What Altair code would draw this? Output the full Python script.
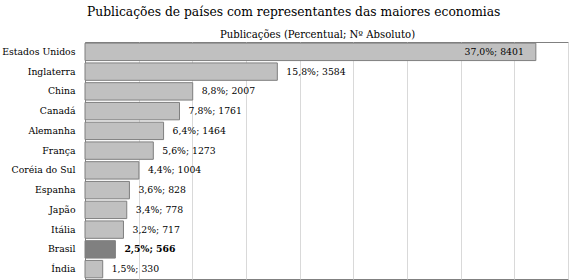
import altair as alt
import pandas as pd

countries = ["Estados Unidos", "Inglaterra", "China", "Canadá", "Alemanha", "França",
             "Coréia do Sul", "Espanha", "Japão", "Itália", "Brasil", "Índia"]
percent = [37.0, 15.8, 8.8, 7.8, 6.4, 5.6, 4.4, 3.6, 3.4, 3.2, 2.5, 1.5]
absolute = [8401, 3584, 2007, 1761, 1464, 1273, 1004, 828, 778, 717, 566, 330]
grid_values = [0, 1000, 2000, 3000, 4000, 5000, 6000, 7000, 8000, 9000]

labels = [f"{p:.1f}".replace(".", ",") + "%; " + str(a) for p, a in zip(percent, absolute)]
df = pd.DataFrame({"country": countries, "pct": percent, "abs": absolute, "label": labels})

FONT = "DejaVu Serif"

x_enc = alt.X("abs:Q", scale=alt.Scale(domain=[0, 9000], nice=False),
              axis=alt.Axis(orient="top", values=grid_values, labels=False, ticks=False,
                            domain=False, grid=True, gridColor="#d9d9d9",
                            title="Publicações (Percentual; Nº Absoluto)",
                            titleFont=FONT, titleFontSize=10.1, titleFontWeight="normal",
                            titleColor="#000000", titleX=232, titleY=-5,
                            titleBaseline="alphabetic", titleAlign="center"))
y_enc = alt.Y("country:N", sort=countries,
              scale=alt.Scale(paddingInner=0.12, paddingOuter=0.06),
              axis=alt.Axis(title=None, ticks=False, domain=True, domainColor="#808080",
                            labelFont=FONT, labelFontSize=9.3, labelColor="#000000",
                            labelPadding=10, labelLimit=200))

base = alt.Chart(df)

bars = base.mark_bar(stroke="#7f7f7f", strokeWidth=1).encode(
    x=x_enc, y=y_enc,
    fill=alt.condition(alt.datum.country == "Brasil", alt.value("#808080"), alt.value("#c0c0c0")),
)

txt_us = base.transform_filter(alt.datum.country == "Estados Unidos").mark_text(
    align="right", dx=-12, font=FONT, fontSize=9.3, color="#000000").encode(
    x="abs:Q", y=alt.Y("country:N", sort=countries), text="label:N")

txt_rest = base.transform_filter(
    (alt.datum.country != "Estados Unidos") & (alt.datum.country != "Brasil")).mark_text(
    align="left", dx=9, font=FONT, fontSize=9.3, color="#000000").encode(
    x="abs:Q", y=alt.Y("country:N", sort=countries), text="label:N")

txt_br = base.transform_filter(alt.datum.country == "Brasil").mark_text(
    align="left", dx=9, font=FONT, fontSize=9.3, fontWeight="bold", color="#000000").encode(
    x="abs:Q", y=alt.Y("country:N", sort=countries), text="label:N")

chart = alt.layer(bars, txt_us, txt_rest, txt_br).properties(
    width=483, height=237,
    autosize=alt.AutoSizeParams(type="none"),
    padding={"left": 85, "top": 42, "right": 1, "bottom": 1},
    background="white",
    title=alt.TitleParams("Publicações de países com representantes das maiores economias",
                          font=FONT, fontSize=12.3, fontWeight="normal", color="#000000",
                          anchor="start", frame="group", dx=2, offset=11),
).configure_view(stroke="#808080", strokeWidth=1)

chart.save("out.html", embed_options={"renderer": "svg", "actions": False})
